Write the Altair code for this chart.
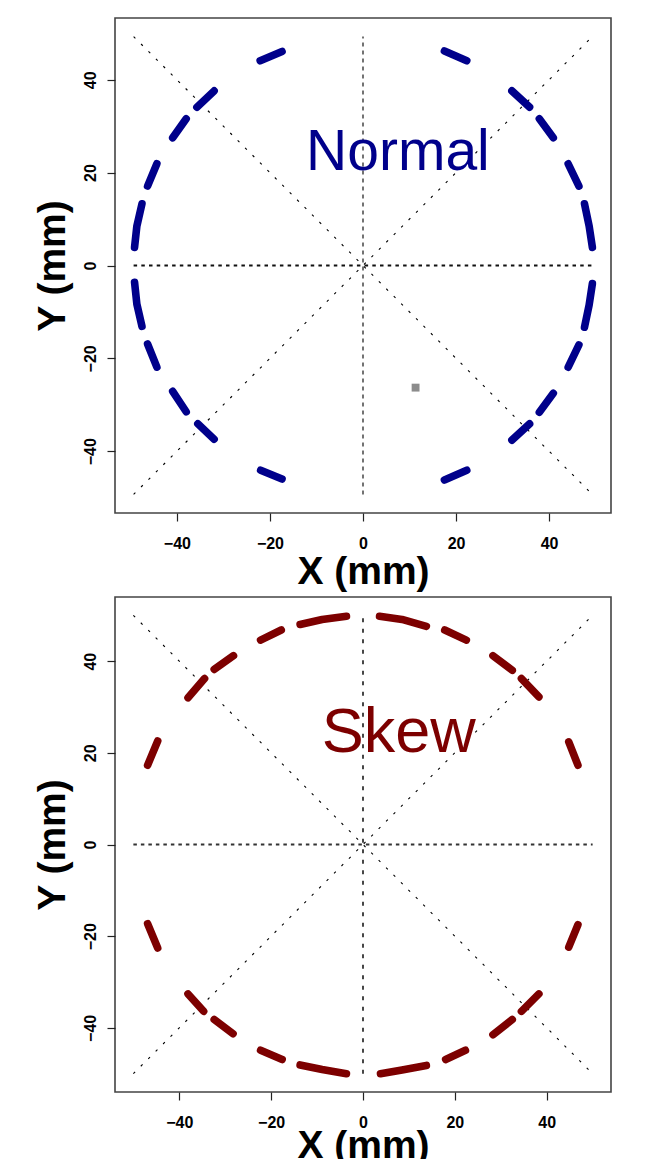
import altair as alt
import pandas as pd

# ---------------- data (mm) ----------------
TICKS = [-40, -20, 0, 20, 40]

# "Normal" panel: arc segments (segment id, x, y)
normal_seg = [1, 1, 1, 2, 2, 3, 3, 4, 4, 5, 5,
              6, 6, 7, 7, 8, 8, 9, 9, 10, 10, 10,
              11, 11, 11, 12, 12, 13, 13, 14, 14, 15, 15,
              16, 16, 17, 17, 18, 18, 19, 19, 20, 20, 20]
normal_x = [-49.1, -48.6, -47.5, -46.3, -44.3, -40.9, -38.0, -35.7, -32.0, -22.1, -17.4,
            17.5, 22.3, 32.0, 35.8, 37.9, 40.9, 44.1, 46.4, 47.6, 48.6, 49.3,
            49.3, 48.6, 47.6, 46.4, 44.1, 40.9, 37.9, 35.8, 32.0, 22.3, 17.5,
            -17.4, -22.0, -32.0, -35.5, -38.0, -40.9, -44.3, -46.3, -47.5, -48.6, -49.1]
normal_y = [3.9, 8.5, 13.3, 17.1, 21.9, 27.5, 31.6, 34.1, 37.6, 44.1, 46.1,
            46.2, 44.1, 37.6, 34.1, 31.6, 27.5, 21.9, 17.1, 13.3, 8.5, 3.9,
            -3.9, -8.5, -13.3, -17.1, -21.9, -27.5, -31.6, -34.1, -37.6, -44.1, -46.2,
            -46.0, -44.1, -37.4, -34.1, -31.5, -27.1, -21.9, -16.9, -13.1, -8.3, -3.6]

# "Skew" panel: arc segments (segment id, x, y)
skew_seg = [1, 1, 2, 2, 3, 3, 4, 4, 5, 5, 5,
            6, 6, 6, 7, 7, 8, 8, 9, 9, 10, 10,
            11, 11, 12, 12, 13, 13, 14, 14, 15, 15, 15,
            16, 16, 16, 17, 17, 18, 18, 19, 19, 20, 20]
skew_x = [-46.9, -44.7, -38.1, -34.5, -32.4, -28.2, -22.3, -17.8, -13.7, -8.9, -3.6,
          3.6, 8.5, 13.8, 17.8, 22.5, 28.3, 32.5, 34.5, 38.3, 44.8, 46.8,
          46.8, 44.8, 38.3, 34.5, 32.5, 28.3, 22.3, 18.0, 13.8, 8.5, 3.8,
          -3.6, -8.9, -13.7, -17.6, -22.3, -28.3, -32.4, -34.7, -38.1, -44.7, -46.9]
skew_y = [17.3, 22.6, 32.0, 36.2, 38.2, 41.2, 44.6, 46.8, 48.0, 49.1, 49.8,
          49.8, 49.1, 47.6, 46.8, 44.6, 41.2, 38.0, 36.2, 32.2, 22.4, 17.3,
          -17.5, -22.4, -32.6, -36.4, -38.2, -41.5, -44.9, -46.9, -48.2, -49.2, -50.0,
          -50.0, -49.1, -48.1, -46.9, -44.9, -41.3, -38.2, -36.4, -32.6, -22.6, -17.3]

# reference lines (x1, y1, x2, y2)
normal_hline = [-49.3, 0, 49.3, 0]
normal_vline = [0, -49.3, 0, 49.3]
normal_diag_x1 = [-49.3, -49.3]
normal_diag_y1 = [-49.3, 49.3]
normal_diag_x2 = [49.3, 49.3]
normal_diag_y2 = [49.3, -49.3]

skew_hline = [-50, 0, 50, 0]
skew_vline = [0, -50, 0, 50]
skew_diag_x1 = [-50, -50]
skew_diag_y1 = [-50, 50]
skew_diag_x2 = [50, 50]
skew_diag_y2 = [50, -50]

# labels
normal_label = ["Normal"]
normal_label_x = [7.5]
normal_label_y = [20.6]
skew_label = ["Skew"]
skew_label_x = [7.8]
skew_label_y = [20.2]

# grey marker in the Normal panel
marker_x = [11.3]
marker_y = [-26.3]

NAVY = "#00008b"
MAROON = "#7d0000"
FONT = "Liberation Sans"


def make_panel(seg, xs, ys, color, hline, vline, dx1, dy1, dx2, dy2,
               label, lx, ly, label_size, dom, title_y,
               h_style, v_style, marker=None):
    xsc = alt.Scale(domain=dom, nice=False, zero=False)
    ysc = alt.Scale(domain=dom, nice=False, zero=False)
    xaxis = alt.Axis(values=TICKS, title="X (mm)", grid=False, domain=False,
                     tickSize=8, tickColor="#222", tickWidth=1.2,
                     labelFont=FONT, labelFontSize=16, labelFontWeight="bold",
                     labelColor="black", labelBaseline="alphabetic", labelPadding=27,
                     labelFlush=False,
                     titleFont=FONT, titleFontSize=39, titleFontWeight="bold",
                     titleColor="black", titleBaseline="alphabetic", titleY=title_y)
    yaxis = alt.Axis(values=TICKS, title="Y (mm)", grid=False, domain=False,
                     tickSize=8, tickColor="#222", tickWidth=1.2,
                     labelFont=FONT, labelFontSize=16, labelFontWeight="bold",
                     labelColor="black", labelAngle=-90, labelAlign="center",
                     labelBaseline="alphabetic", labelPadding=12, labelFlush=False,
                     titleFont=FONT, titleFontSize=39, titleFontWeight="bold",
                     titleColor="black", titleBaseline="alphabetic", titleAngle=-90,
                     titleX=-51)

    def X(field):
        return alt.X(field, type="quantitative", scale=xsc, axis=xaxis)

    def Y(field):
        return alt.Y(field, type="quantitative", scale=ysc, axis=yaxis)

    df_arc = pd.DataFrame({"seg": seg, "x": xs, "y": ys})
    df_arc["i"] = range(len(df_arc))

    df_h = pd.DataFrame({"x1": [hline[0]], "y1": [hline[1]], "x2": [hline[2]], "y2": [hline[3]]})
    df_v = pd.DataFrame({"x1": [vline[0]], "y1": [vline[1]], "x2": [vline[2]], "y2": [vline[3]]})
    df_d = pd.DataFrame({"x1": dx1, "y1": dy1, "x2": dx2, "y2": dy2})

    def rules(df, style):
        width, dash, col = style
        return alt.Chart(df).mark_rule(color=col, strokeWidth=width, strokeDash=dash).encode(
            x=X("x1"), y=Y("y1"), x2="x2", y2="y2")

    layers = [
        rules(df_d, (1.1, [2.5, 8], "black")),
        rules(df_h, h_style),
        rules(df_v, v_style),
    ]
    if marker is not None:
        df_m = pd.DataFrame({"x": marker[0], "y": marker[1]})
        layers.append(alt.Chart(df_m).mark_square(size=62, color="#8c8c8c", opacity=1).encode(
            x=X("x"), y=Y("y")))
    layers.append(
        alt.Chart(df_arc).mark_line(color=color, strokeWidth=7.6, strokeCap="round",
                                    strokeJoin="round").encode(
            x=X("x"), y=Y("y"), detail="seg:N", order="i:Q"))
    df_t = pd.DataFrame({"t": label, "x": lx, "y": ly})
    layers.append(alt.Chart(df_t).mark_text(font=FONT, fontSize=label_size, color=color,
                                            align="center", baseline="alphabetic").encode(
        x=X("x"), y=Y("y"), text="t:N"))
    return alt.layer(*layers).properties(width=496, height=495)


top = make_panel(normal_seg, normal_x, normal_y, NAVY, normal_hline, normal_vline,
                 normal_diag_x1, normal_diag_y1, normal_diag_x2, normal_diag_y2,
                 normal_label, normal_label_x, normal_label_y,
                 57, [-53.3, 53.3], 70,
                 (1.8, [3.5, 4.2], "#111"), (1.1, [4, 4], "black"),
                 marker=(marker_x, marker_y))
bottom = make_panel(skew_seg, skew_x, skew_y, MAROON, skew_hline, skew_vline,
                    skew_diag_x1, skew_diag_y1, skew_diag_x2, skew_diag_y2,
                    skew_label, skew_label_x, skew_label_y,
                    63, [-54, 54], 65,
                    (2.2, [3.5, 4], "#333"), (1.8, [4, 6.5], "#333"))

chart = alt.vconcat(top, bottom, spacing=84, bounds="flush").configure(
    padding={"left": 24, "top": 9, "right": 0, "bottom": 0},
    background="white",
).configure_view(stroke="#444", strokeWidth=1.6, fill="white")

chart.save("out.html", embed_options={"renderer": "svg", "actions": False})
